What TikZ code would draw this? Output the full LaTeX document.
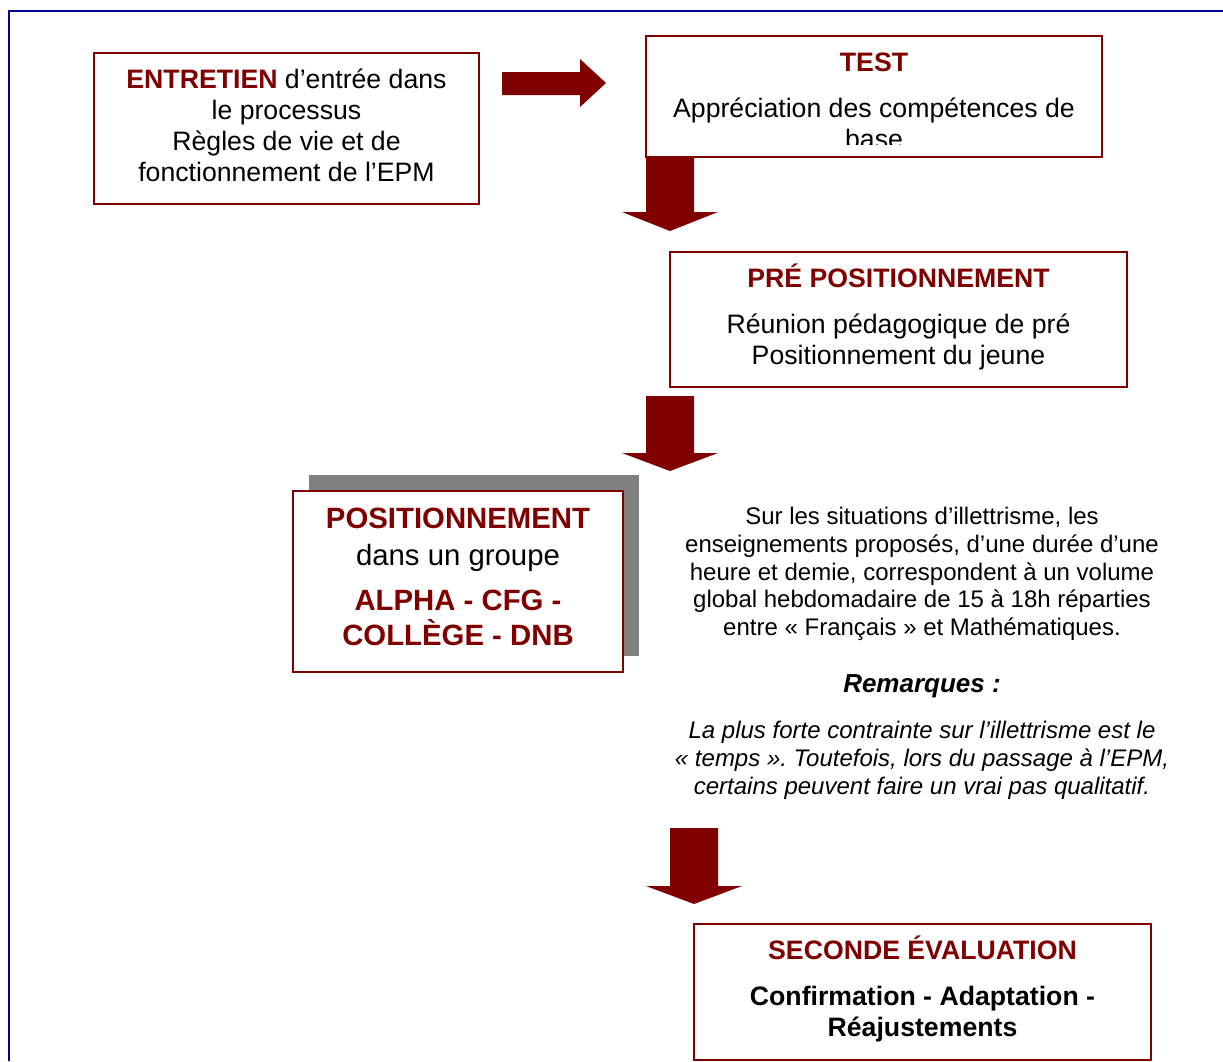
\documentclass[tikz,border=0pt]{standalone}
\usepackage{fontspec}
\setmainfont{Liberation Sans}
\frenchspacing
\usetikzlibrary{shadows}
\definecolor{darkred}{RGB}{128,0,0}
\definecolor{frameblue}{RGB}{0,0,140}
\definecolor{shadowgray}{RGB}{128,128,128}
\newcommand{\bodysize}{\fontsize{20}{23.25}\selectfont}
\newcommand{\possize}{\fontsize{22}{26}\selectfont}
\newcommand{\notesize}{\fontsize{18}{20.8}\selectfont}
\newcommand{\rtitle}[1]{\textbf{\textcolor{darkred}{#1}}}

\begin{document}
\begin{tikzpicture}[x=0.75pt,y=-0.75pt,
  box/.style={draw=darkred,line width=1.5pt,rectangle,inner sep=0pt},
  boxtext/.style={align=center,font=\bodysize,inner sep=0pt},
  note/.style={align=center,font=\notesize,inner sep=0pt}]
\useasboundingbox (0,0) rectangle (1223,1061);
\path[draw,frameblue,line width=1.5pt] (9,1061) -- (9,11) -- (1223,11);

% the four steps
\node[box,minimum width=288.75pt,minimum height=113.25pt] (entretien) at (286.5,128.5) {};
\node[boxtext] (entretientext) at (286.5,125)
  {\rtitle{ENTRETIEN} d’entrée dans\\le processus\\Règles de vie et de\\fonctionnement de l’EPM};
\begin{scope}
\clip (647,37) rectangle (1101,144);
\node[boxtext] (testtext) at (874,101)
  {\rtitle{TEST}\\[11pt]Appréciation des compétences de\\base};
\end{scope}
\node[box,minimum width=342pt,minimum height=90.75pt] (test) at (874,96.5) {};
\node[box,minimum width=342.75pt,minimum height=101.25pt] (prepos) at (898.5,319.5) {};
\node[boxtext] (prepostext) at (898.5,317)
  {\rtitle{PRÉ POSITIONNEMENT}\\[11pt]Réunion pédagogique de pré\\Positionnement du jeune};
\node[box,fill=white,minimum width=247.5pt,minimum height=135.75pt,
  drop shadow={shadow xshift=12pt,shadow yshift=12pt,fill=shadowgray,opacity=1}] (pos) at (458,581.5) {};
\node[boxtext,font=\possize] (postext) at (458,577)
  {\rtitle{POSITIONNEMENT}\\[1.5pt]dans un groupe\\[8pt]\rtitle{ALPHA - CFG -}\\\rtitle{COLLÈGE - DNB}};
\node[box,minimum width=342.75pt,minimum height=102pt] (seconde) at (922.5,992) {};
\node[boxtext] (secondetext) at (922.5,989)
  {\rtitle{SECONDE ÉVALUATION}\\[11pt]\textbf{Confirmation - Adaptation -}\\\textbf{Réajustements}};

% notes
\node[note] (info) at (922,574)
  {Sur les situations d’illettrisme, les\\enseignements proposés, d’une durée d’une\\heure et demie, correspondent à un volume\\global hebdomadaire de 15 à 18h réparties\\entre « Français » et Mathématiques.};
\node[note,font=\fontsize{19.5}{22}\selectfont] (remarques) at (922,686) {\textbf{\textit{Remarques :}}};
\node[note,font=\notesize\itshape] (remtext) at (922,760.5)
  {La plus forte contrainte sur l’illettrisme est le\\« temps ». Toutefois, lors du passage à l’EPM,\\certains peuvent faire un vrai pas qualitatif.};

% block arrows
\path[fill=darkred] (502,72) -- (580,72) -- (580,59) -- (606,83) -- (580,107) -- (580,95) -- (502,95) -- cycle;
\path[fill=darkred] (646,157) -- (694,157) -- (694,212) -- (718,212) -- (670,231) -- (622,212) -- (646,212) -- cycle;
\path[fill=darkred] (646,396) -- (694,396) -- (694,453) -- (718,453) -- (670,471) -- (622,453) -- (646,453) -- cycle;
\path[fill=darkred] (670,828) -- (718,828) -- (718,886) -- (742,886) -- (694,904) -- (646,886) -- (670,886) -- cycle;
\end{tikzpicture}
\end{document}
